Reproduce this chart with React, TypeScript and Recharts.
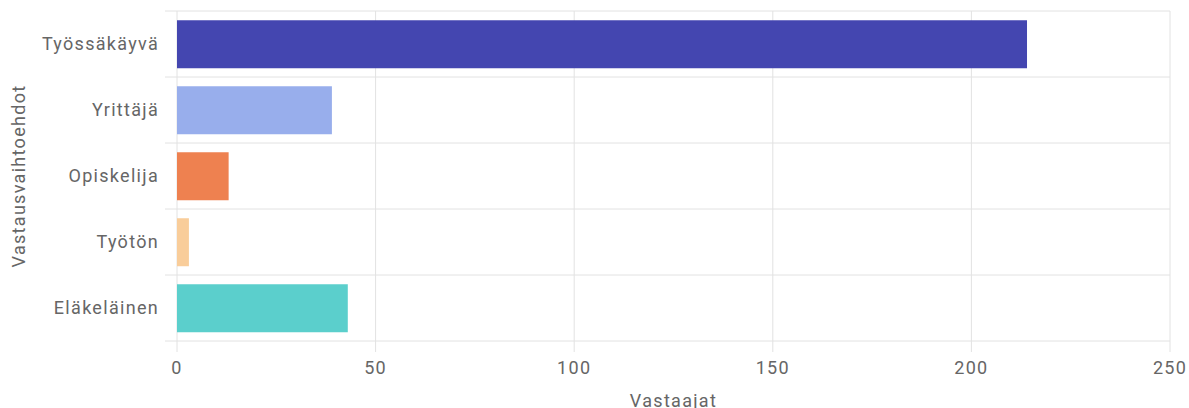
import { Bar, BarChart, CartesianGrid, Cell, XAxis, YAxis } from "recharts";

const categories = ["Työssäkäyvä", "Yrittäjä", "Opiskelija", "Työtön", "Eläkeläinen"];
const respondents = [214, 39, 13, 3, 43];
const barColors = ["#4446b0", "#98aeec", "#ee8150", "#f9cd9a", "#5bcfcc"];
const xTicks = [0, 50, 100, 150, 200, 250];

const data = categories.map((name, i) => ({ name, value: respondents[i] }));

const textStyle = { fill: "#666", fontSize: 18, fontFamily: "Roboto", letterSpacing: 1.3 };

const App = () => {
  // horizontal grid lines sit between the categories, like the original
  const bandLines = ({ offset }: any) =>
    Array.from({ length: categories.length + 1 }, (_, i) => offset.top + (i * offset.height) / categories.length);

  return (
    <div style={{ position: "absolute", left: 0, top: 0 }}>
      <BarChart
        width={1189}
        height={408}
        data={data}
        layout="vertical"
        margin={{ top: 11, right: 19, left: 0, bottom: 0 }}
        barCategoryGap="14%"
      >
        <CartesianGrid
          stroke="#e2e2e2"
          x={165}
          y={11}
          width={1005}
          height={341}
          horizontalCoordinatesGenerator={bandLines}
          syncWithTicks={false}
        />
        <XAxis
          type="number"
          domain={[0, 250]}
          ticks={xTicks}
          axisLine={false}
          tickLine={false}
          tickSize={0}
          tickMargin={20}
          height={67}
          tick={textStyle}
          label={{ value: "Vastaajat", position: "insideBottom", offset: 1, ...textStyle }}
        />
        <YAxis
          type="category"
          dataKey="name"
          width={177}
          axisLine={false}
          tickLine={false}
          tickSize={0}
          tickMargin={18}
          tick={textStyle}
          label={{
            value: "Vastausvaihtoehdot",
            angle: -90,
            position: "insideLeft",
            offset: 19,
            textAnchor: "middle",
            ...textStyle,
          }}
        />
        <Bar dataKey="value" isAnimationActive={false}>
          {data.map((d, i) => (
            <Cell key={d.name} fill={barColors[i]} />
          ))}
        </Bar>
      </BarChart>
    </div>
  );
};

export default App;
